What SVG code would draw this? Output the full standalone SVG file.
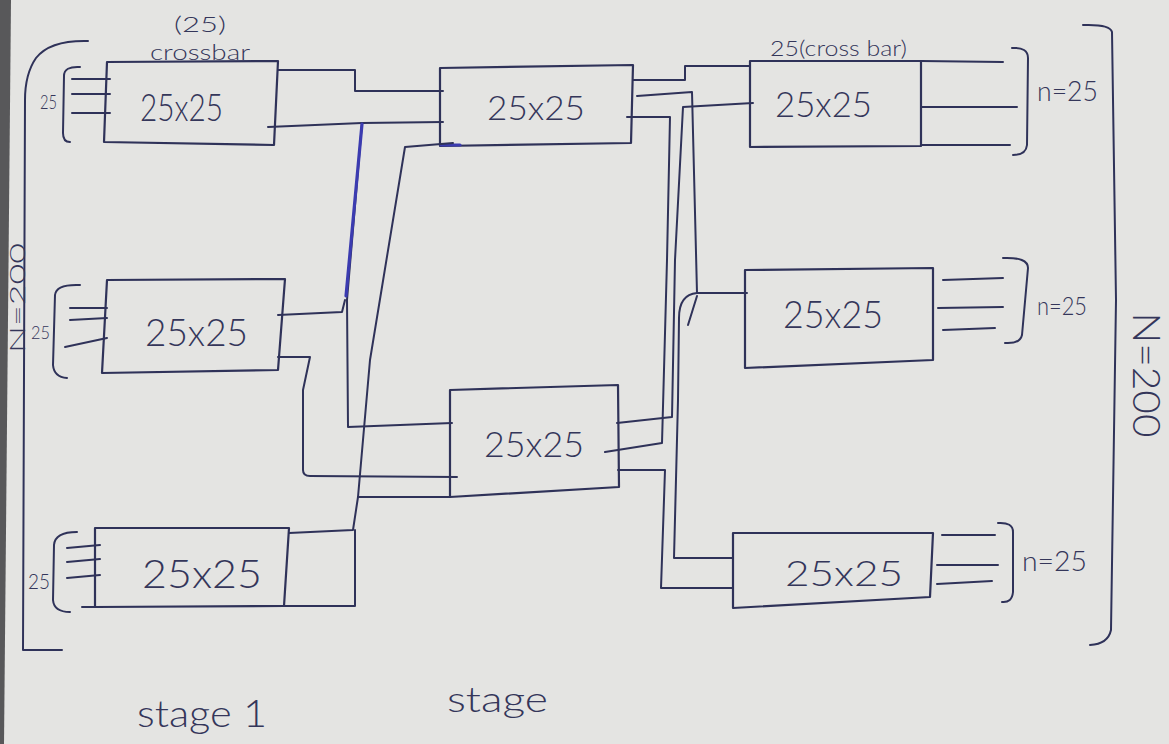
<svg xmlns="http://www.w3.org/2000/svg" width="1169" height="744" viewBox="0 0 1169 744">
<style>
.ln{fill:none;stroke:#2f3259;stroke-width:2;stroke-linecap:round;stroke-linejoin:round}
.bx{fill:none;stroke:#2f3259;stroke-width:2.2;stroke-linejoin:round}
.hv{fill:none;stroke:#3b3bb0;stroke-width:3.2;stroke-linecap:round}
.t{font-family:Lato,"Liberation Sans",Arial,sans-serif;font-weight:300;fill:#34365a}
</style>
<rect width="1169" height="744" fill="#e4e4e2"/>
<polygon points="0,0 11,0 4,744 0,744" fill="#58585a"/>

<g id="frame">
<path class="ln" d="M88,41 Q50,40 36,58 Q25,74 25,100 L23,650 H62"/>
<path class="ln" d="M1083,25 Q1110,24 1112,32 L1116,300 L1111,630 Q1108,644 1090,645"/>
<text class="t" font-size="22" text-anchor="middle" textLength="110" lengthAdjust="spacingAndGlyphs" transform="translate(25,298) rotate(-90)">N=200</text>
<text class="t" font-size="38" text-anchor="middle" textLength="125" lengthAdjust="spacingAndGlyphs" transform="translate(1133,375) rotate(90)">N=200</text>
<text class="t" x="137" y="727" font-size="38" textLength="130" lengthAdjust="spacingAndGlyphs">stage 1</text>
<text class="t" x="447" y="712" font-size="36" textLength="101" lengthAdjust="spacingAndGlyphs">stage</text>
</g>

<g id="s1a">
<polygon class="bx" points="107,62 278,61 274,145 104,142"/>
<text class="t" x="174" y="32" font-size="21" textLength="52" lengthAdjust="spacingAndGlyphs">(25)</text>
<text class="t" x="150" y="60" font-size="21" textLength="100" lengthAdjust="spacingAndGlyphs">crossbar</text>
<text class="t" x="140" y="121" font-size="38" textLength="83" lengthAdjust="spacingAndGlyphs">25x25</text>
<path class="ln" d="M72,79 H110 M72,94 H110 M72,113 H110"/>
<path class="ln" d="M80,67 Q64,66 64,76 L63,133 Q63,142 70,142"/>
<text class="t" x="40" y="109" font-size="20" textLength="17" lengthAdjust="spacingAndGlyphs">25</text>
</g>

<g id="s1b">
<polygon class="bx" points="107,280 285,279 278,370 102,373"/>
<text class="t" x="145" y="346" font-size="38" textLength="103" lengthAdjust="spacingAndGlyphs">25x25</text>
<path class="ln" d="M70,308 H107 M70,320 L107,318 M65,347 L107,338"/>
<path class="ln" d="M80,285 Q56,284 55,295 L53,365 Q54,377 67,378"/>
<text class="t" x="31" y="339" font-size="18" textLength="19" lengthAdjust="spacingAndGlyphs">25</text>
</g>

<g id="s1c">
<polygon class="bx" points="95,528 289,528 284,606 95,607"/>
<path class="ln" d="M82,607 H95"/>
<text class="t" x="142" y="588" font-size="40" textLength="120" lengthAdjust="spacingAndGlyphs">25x25</text>
<path class="ln" d="M67,548 L100,545 M67,562 L100,559 M67,578 L100,575"/>
<path class="ln" d="M77,532 Q55,532 54,545 L53,600 Q54,612 70,612"/>
<text class="t" x="28" y="589" font-size="22" textLength="22" lengthAdjust="spacingAndGlyphs">25</text>
</g>

<g id="s2a">
<polygon class="bx" points="440,68 633,65 631,143 440,146"/>
<path class="hv" d="M441,145 H460"/>
<text class="t" x="487" y="120" font-size="34" textLength="98" lengthAdjust="spacingAndGlyphs">25x25</text>
</g>

<g id="s2b">
<polygon class="bx" points="450,390 618,385 619,487 450,497"/>
<text class="t" x="484" y="457" font-size="36" textLength="100" lengthAdjust="spacingAndGlyphs">25x25</text>
</g>

<g id="s3a">
<polygon class="bx" points="750,61 921,61 921,146 750,147"/>
<text class="t" x="770" y="56" font-size="22" textLength="137" lengthAdjust="spacingAndGlyphs">25(cross bar)</text>
<text class="t" x="775" y="117" font-size="36" textLength="97" lengthAdjust="spacingAndGlyphs">25x25</text>
<path class="ln" d="M921,61 L1003,62 M921,107 L1017,107 M921,145 L1010,145"/>
<path class="ln" d="M1012,48 Q1028,47 1028,58 L1027,145 Q1026,155 1013,155"/>
<text class="t" x="1037" y="101" font-size="28" textLength="61" lengthAdjust="spacingAndGlyphs">n=25</text>
</g>

<g id="s3b">
<polygon class="bx" points="745,270 933,268 933,360 745,368"/>
<text class="t" x="783" y="328" font-size="38" textLength="100" lengthAdjust="spacingAndGlyphs">25x25</text>
<path class="ln" d="M943,280 L1003,278 M938,308 L1003,307 M943,330 L995,328"/>
<path class="ln" d="M1003,258 Q1028,257 1028,268 L1022,335 Q1020,344 1005,343"/>
<text class="t" x="1037" y="315" font-size="26" textLength="50" lengthAdjust="spacingAndGlyphs">n=25</text>
</g>

<g id="s3c">
<polygon class="bx" points="733,533 933,533 930,597 733,608"/>
<text class="t" x="785" y="586" font-size="36" textLength="118" lengthAdjust="spacingAndGlyphs">25x25</text>
<path class="ln" d="M942,535 L995,535 M937,565 L998,565 M937,584 L992,581"/>
<path class="ln" d="M998,523 Q1013,522 1013,532 L1013,592 Q1012,603 1002,602"/>
<text class="t" x="1022" y="571" font-size="28" textLength="65" lengthAdjust="spacingAndGlyphs">n=25</text>
</g>

<g id="connectors">
<path class="ln" d="M278,70 H355 V91 H443"/>
<path class="ln" d="M268,127 L362,123 L443,122"/>
<path class="ln" d="M362,123 L347,300 L348,427 L452,423"/>
<path class="hv" d="M362,124 L346,296"/>
<path class="ln" d="M278,315 L342,312 L345,300"/>
<path class="ln" d="M278,357 H310 L303,390 L303,470 Q303,476 310,476 L457,477"/>
<path class="ln" d="M453,143 L405,147 L370,360 L358,497 L353,530 L289,533"/>
<path class="ln" d="M358,497 H450"/>
<path class="ln" d="M283,606 H355 V530"/>
<path class="ln" d="M633,80 H685 V66 H750"/>
<path class="ln" d="M637,96 L692,92 L697,293 H747"/>
<path class="ln" d="M697,293 C685,294 679,302 679,318 L678,400 L674,558 H733"/>
<path class="ln" d="M697,296 L688,325"/>
<path class="ln" d="M753,103 L683,107 L675,260 L672,417 L617,423"/>
<path class="ln" d="M627,117 H670 L667,260 L662,443 L605,452"/>
<path class="ln" d="M618,470 H665 L661,588 H733"/>
</g>
</svg>
